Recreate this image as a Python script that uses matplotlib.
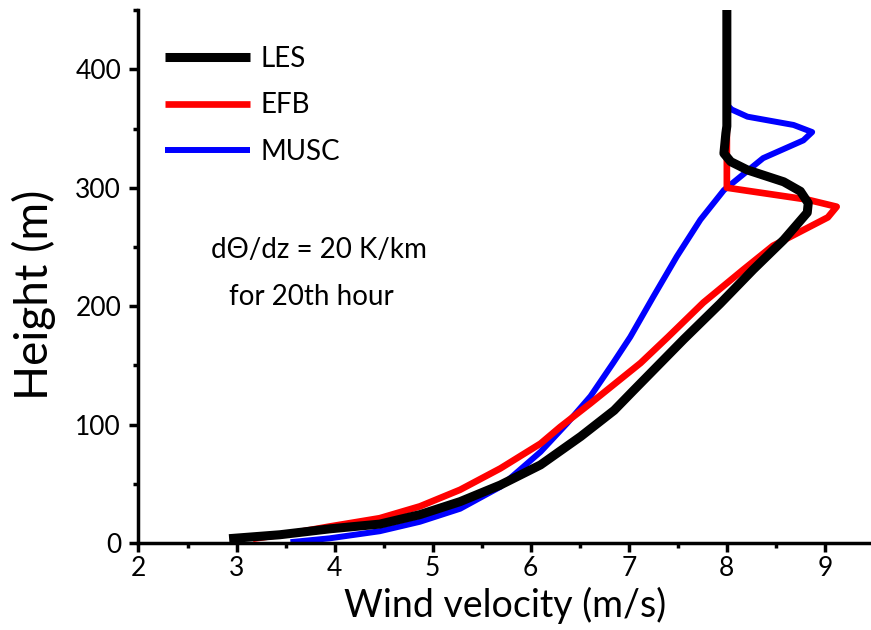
import numpy as np
import matplotlib.pyplot as plt
from matplotlib.ticker import MultipleLocator

# wind profiles (velocity m/s, height m)
les_u = [2.97, 3.44, 3.95, 4.46, 4.87, 5.28, 5.69, 6.10, 6.51, 6.85, 7.05, 7.56, 7.93, 8.27, 8.58, 8.82, 8.83, 8.75, 8.58, 8.21, 8.04, 7.97, 7.99, 8.0, 8.0]
les_z = [4, 7, 12, 16, 24, 35, 49, 66, 90, 112, 129, 172, 202, 231, 256, 279, 287, 297, 305, 315, 322, 329, 346, 352, 450]

efb_u = [3.2, 3.61, 3.95, 4.46, 4.87, 5.28, 5.69, 6.10, 6.30, 6.61, 6.91, 7.12, 7.40, 7.76, 8.17, 8.47, 9.03, 9.12, 8.82, 8.0, 8.0, 8.0]
efb_z = [4, 9, 14, 21, 31, 45, 63, 84, 98, 118, 138, 152, 174, 203, 231, 251, 275, 284, 290, 300, 318, 450]

musc_u = [3.58, 3.95, 4.46, 4.87, 5.28, 5.69, 6.10, 6.37, 6.61, 6.84, 7.015, 7.25, 7.49, 7.73, 7.97, 8.37, 8.78, 8.87, 8.68, 8.21, 8.05, 8.0, 8.0]
musc_z = [1, 4, 10, 18, 29, 47.5, 77, 101, 124, 152, 174, 208, 242, 273, 298, 325, 340, 347, 353, 360, 366, 370, 450]

plt.rcParams['font.family'] = ['Lato', 'DejaVu Sans']

fig = plt.figure(figsize=(8.71, 6.30), dpi=100)
ax = fig.add_axes([0.159, 0.138, 0.841, 0.846])

ax.plot(musc_u, musc_z, color='#0000ff', lw=4.3, solid_joinstyle='round', label='MUSC', zorder=2)
ax.plot(efb_u, efb_z, color='#ff0000', lw=4.8, solid_joinstyle='round', label='EFB', zorder=3)
ax.plot(les_u, les_z, color='black', lw=6.5, solid_joinstyle='round', label='LES', zorder=4)

ax.set_xlim(2, 9.47)
ax.set_ylim(0, 450)
ax.xaxis.set_major_locator(MultipleLocator(1))
ax.xaxis.set_minor_locator(MultipleLocator(0.5))
ax.yaxis.set_major_locator(MultipleLocator(100))
ax.yaxis.set_minor_locator(MultipleLocator(50))

for s in ['top', 'right']:
    ax.spines[s].set_visible(False)
for s in ['left', 'bottom']:
    ax.spines[s].set_linewidth(2.5)

ax.tick_params(which='major', direction='out', length=6.5, width=2.5, labelsize=19)
ax.tick_params(axis='x', which='major', pad=3)
ax.tick_params(axis='y', which='major', pad=6)
ax.tick_params(which='minor', direction='out', length=3.6, width=2.5)

ax.set_xlabel('Wind velocity (m/s)', fontsize=27)
ax.xaxis.set_label_coords(0.5, -0.083)
ax.set_ylabel('Height (m)', fontsize=33)
ax.yaxis.set_label_coords(-0.112, 0.465)

handles, labels = ax.get_legend_handles_labels()
leg = ax.legend(handles[::-1], labels[::-1], loc='upper left', bbox_to_anchor=(165 / 871, 1 - 46 / 630),
                bbox_transform=fig.transFigure, frameon=False, fontsize=20, handlelength=3.05,
                handletextpad=0.4, labelspacing=0.73, borderpad=0, borderaxespad=0)
for line in leg.get_lines():
    line.set_solid_capstyle('butt')

fig.text(319 / 871, 1 - 250 / 630, 'd\u0398/dz = 20 K/km', fontsize=20, ha='center', va='center')
fig.text(311 / 871, 1 - 297 / 630, 'for 20th hour', fontsize=20, ha='center', va='center')

fig.savefig('out.png', dpi=100)
